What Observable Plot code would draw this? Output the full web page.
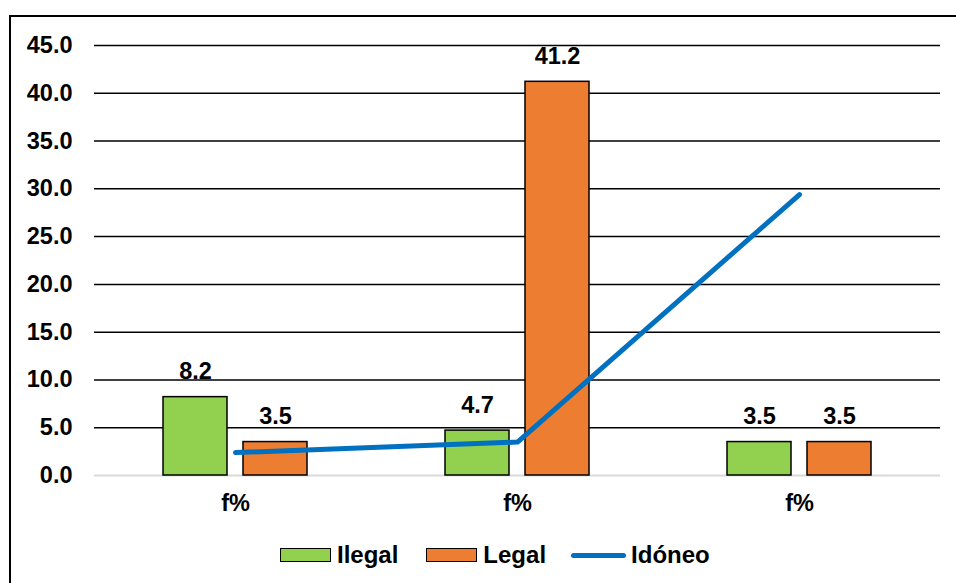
<!DOCTYPE html>
<html><head><meta charset="utf-8">
<script src="https://cdn.jsdelivr.net/npm/d3@7"></script>
<script src="https://cdn.jsdelivr.net/npm/@observablehq/plot@0.6"></script>
<style>
body{margin:0;background:#fff;overflow:hidden;width:956px;height:583px;position:relative;font-family:"Liberation Sans",Arial,sans-serif;}
#frame{position:absolute;left:9px;top:15px;width:1000px;height:700px;border:2px solid #000;box-sizing:border-box;}
#chart{position:absolute;left:0;top:0;}
#legend{position:absolute;left:280px;top:540px;height:30px;display:flex;align-items:center;font-weight:bold;font-size:24px;color:#000;}
#legend .sw{width:49px;height:12px;border:1.5px solid #000;margin-right:6px;}
#legend .ln{width:55px;height:5px;border-radius:3px;background:#0070C0;margin-right:5px;}
#legend .item{display:flex;align-items:center;}
</style></head><body>
<div id="frame"></div>
<div id="chart"></div>
<div id="legend"></div>
<script>
const categories = ["f%", "f%", "f%"];
const seriesNames = ["Ilegal", "Legal", "Idóneo"];
const ilegal = [8.2, 4.7, 3.5];
const legal = [3.5, 41.2, 3.5];
const idoneo = [2.4, 3.5, 29.4];
const yTicks = [0, 5, 10, 15, 20, 25, 30, 35, 40, 45];
const colors = ["#92D050", "#ED7D31", "#0070C0"];

const idx = categories.map((_, i) => i);
const ilegalData = idx.map(i => ({g: i, v: ilegal[i]}));
const legalData = idx.map(i => ({g: i, v: legal[i]}));
const lineData = idx.map(i => ({g: i, v: idoneo[i]}));
const fmt = d3.format(".1f");
const FS = 23.5;

const chart = Plot.plot({
  width: 956,
  height: 525,
  marginLeft: 94,
  marginRight: 16,
  marginTop: 45,
  marginBottom: 50,
  style: {fontFamily: "'Liberation Sans', Arial, sans-serif", fontSize: FS + "px", fontWeight: "bold", color: "#000", background: "transparent"},
  x: {type: "band", domain: idx, padding: 0, label: null},
  y: {domain: [0, 45], label: null},
  marks: [
    Plot.ruleY(yTicks.filter(d => d > 0), {stroke: "#000", strokeWidth: 1.5}),
    Plot.ruleY([0], {stroke: "#d9d9d9", strokeWidth: 2}),
    Plot.axisY({ticks: yTicks, tickFormat: fmt, tickSize: 0, tickPadding: 22, fontSize: FS, fontWeight: "bold", label: null}),
    Plot.axisX({tickFormat: i => categories[i], tickSize: 0, tickPadding: 19, fontSize: FS, fontWeight: "bold", label: null}),
    Plot.barY(ilegalData, {x: "g", y: "v", fill: colors[0], stroke: "#000", strokeWidth: 1.5, insetLeft: 69, insetRight: 149}),
    Plot.barY(legalData, {x: "g", y: "v", fill: colors[1], stroke: "#000", strokeWidth: 1.5, insetLeft: 149, insetRight: 69}),
    Plot.text(ilegalData, {x: "g", y: "v", text: d => fmt(d.v), dx: -40, dy: -18, lineAnchor: "bottom", fontSize: FS, fontWeight: "bold", fill: "#000"}),
    Plot.text(legalData, {x: "g", y: "v", text: d => fmt(d.v), dx: 40, dy: -18, lineAnchor: "bottom", fontSize: FS, fontWeight: "bold", fill: "#000"}),
    Plot.line(lineData, {x: "g", y: "v", stroke: colors[2], strokeWidth: 5, strokeLinecap: "round", strokeLinejoin: "round"})
  ]
});
document.getElementById("chart").appendChild(chart);

const legend = document.getElementById("legend");
seriesNames.forEach((name, i) => {
  const item = document.createElement("div");
  item.className = "item";
  item.style.marginRight = i === 0 ? "28px" : i === 1 ? "25px" : "0";
  const sw = document.createElement("div");
  sw.className = i < 2 ? "sw" : "ln";
  if (i < 2) sw.style.background = colors[i];
  const t = document.createElement("span");
  t.textContent = name;
  item.appendChild(sw);
  item.appendChild(t);
  legend.appendChild(item);
});
</script>
</body></html>
